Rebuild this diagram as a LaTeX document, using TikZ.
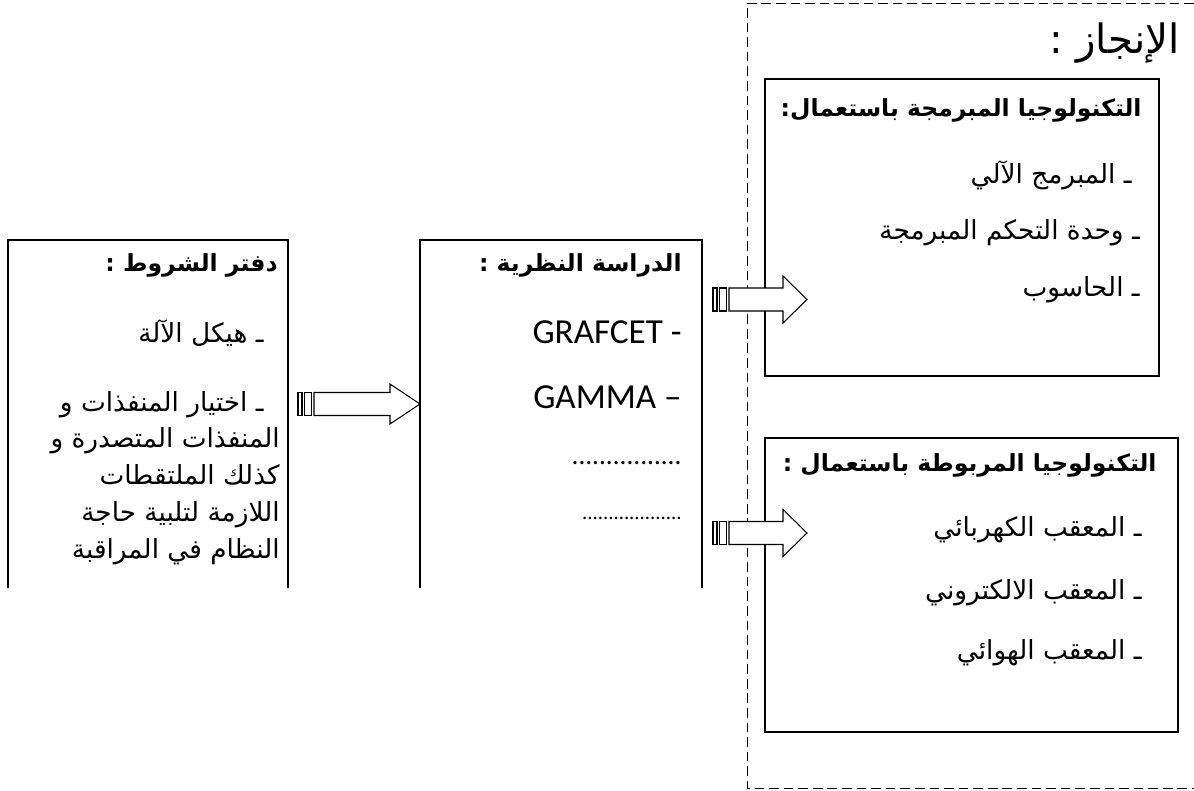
\documentclass[tikz,border=0pt]{standalone}
\usepackage{fontspec}
\newfontfamily\arabicfont[Script=Arabic]{DejaVu Sans}
\newfontfamily\latinfont{Carlito}
\TeXXeTstate=1
\newcommand{\ar}[1]{\beginR #1\endR}
% fleche rayee : origine, debut de la pointe, bout, demi-hauteur de la pointe
\newcommand{\flecheRayee}[4]{%
  \begin{scope}[shift={(#1)}]
    \draw[fleche] (0,-11.5) rectangle (4,11.5);
    \draw[fleche] (6.5,-11.5) rectangle (13.5,11.5);
    \draw[fleche] (16,-11.5) -- (#2,-11.5) -- (#2,-#4) -- (#3,0) -- (#2,#4) -- (#2,11.5) -- (16,11.5) -- cycle;
  \end{scope}}
\tikzset{
  cadre/.style={line width=0.8pt},
  fleche/.style={draw, fill=white, line width=0.6pt},
  texte/.style={anchor=east, inner sep=0pt, font=\arabicfont\fontsize{15}{21}\selectfont},
  titre/.style={texte, font=\arabicfont\bfseries\fontsize{13.4}{21}\selectfont},
  latin/.style={anchor=east, inner sep=0pt, font=\latinfont\fontsize{20}{24}\selectfont},
}
\begin{document}
\begin{tikzpicture}[x=0.02cm, y=-0.02cm]
\useasboundingbox (0,0) rectangle (1194,791);

% les cadres
\draw[cadre] (8,588) -- (8,240) -- (288,240) -- (288,588);
\draw[cadre] (420,588) -- (420,240) -- (702,240) -- (702,588);
\draw[dashed, dash pattern=on 5.5pt off 2.8pt, line width=0.5pt] (1194,3) -- (747,3) -- (747,788) -- (1194,788);
\draw[cadre] (765,79) rectangle (1159,376);
\draw[cadre] (765,438) rectangle (1178,732);

% cahier des charges
\node[titre] (cahier) at (278,265) {\ar{دفتر الشروط :}};
\node[texte] (hiykal) at (264,333) {\ar{ـ هيكل الآلة}};
\node[texte, align=right] (choix) at (280,478) {\ar{ـ اختيار المنفذات و}\kern0.32cm\\
  \ar{المنفذات المتصدرة و}\\
  \ar{كذلك الملتقطات}\\
  \ar{اللازمة لتلبية حاجة}\\
  \ar{النظام في المراقبة}};

% etude theorique
\node[titre] (etude) at (682,265) {\ar{الدراسة النظرية :}};
\node[latin] (grafcet) at (682,332) {GRAFCET -};
\node[latin] (gamma) at (682,397) {GAMMA –};
\node[latin, font=\latinfont\fontsize{15.5}{18}\selectfont] (points1) at (682,463) {................};
\node[latin, font=\latinfont\fontsize{11.8}{14}\selectfont] (points2) at (682,518) {...................};

% realisation
\node[anchor=east, inner sep=0pt, font=\arabicfont\fontsize{23}{27}\selectfont] (realisation) at (1180,43) {\ar{الإنجاز :}};
\node[titre] (programmee) at (1142,110) {\ar{التكنولوجيا المبرمجة باستعمال:}};
\node[texte] (automate) at (1132,175) {\ar{ـ المبرمج الآلي}};
\node[texte] (api) at (1140,233) {\ar{ـ وحدة التحكم المبرمجة}};
\node[texte] (ordinateur) at (1140,290) {\ar{ـ الحاسوب}};

\node[titre] (cablee) at (1157,465) {\ar{التكنولوجيا المربوطة باستعمال :}};
\node[texte] (electrique) at (1142,530) {\ar{ـ المعقب الكهربائي}};
\node[texte] (electronique) at (1142,593) {\ar{ـ المعقب الالكتروني}};
\node[texte] (pneumatique) at (1142,653) {\ar{ـ المعقب الهوائي}};

% les fleches
\flecheRayee{298,404}{92}{122}{20}
\flecheRayee{713,299.5}{70}{94}{23.5}
\flecheRayee{713,533}{70}{94}{23.5}
\end{tikzpicture}
\end{document}
